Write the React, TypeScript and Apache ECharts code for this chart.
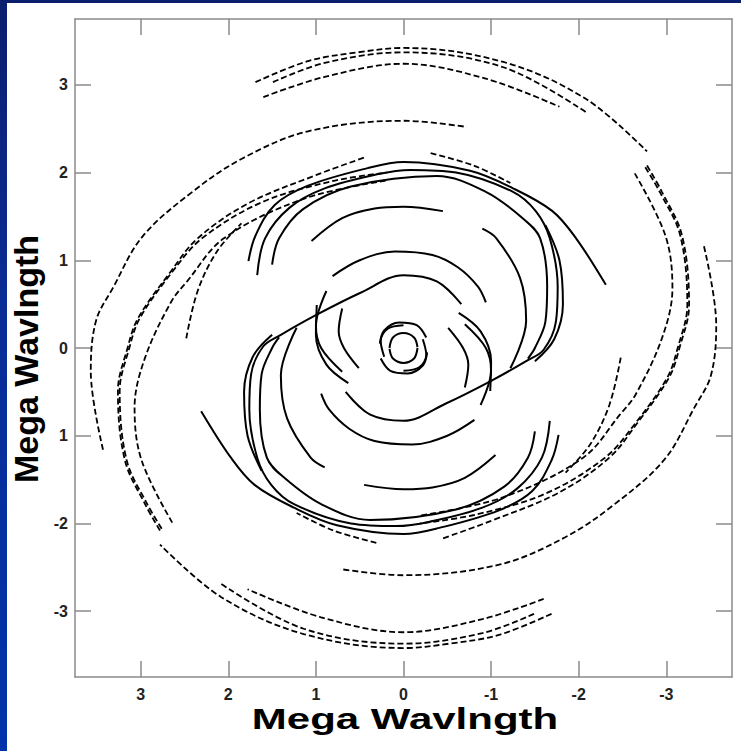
import React, { useEffect, useRef } from "react";
import * as echarts from "echarts";

// Tick values of both axes (Mega wavelengths)
const tickValues = [-3, -2, -1, 0, 1, 2, 3];
const axisTitle = "Mega Wavlngth";

// UV tracks: [u, v] points (u axis runs 3 -> -3 left to right).
// Every track is drawn together with its conjugate (-u, -v).
const trackT1 = [[3.43, -1.16], [3.57, -0.26], [3.51, 0.31], [3.32, 0.68], [2.98, 1.27], [2.41, 1.78], [1.84, 2.16], [1.09, 2.47], [0, 2.59], [-0.72, 2.52]];
const trackTA = [[1.69, 3.03], [1.09, 3.27], [0.52, 3.37], [0, 3.42], [-1.14, 3.26], [-2.08, 2.84], [-2.78, 2.24]];
const trackTB = [[1.49, 3.03], [0.9, 3.25], [0, 3.37], [-1.14, 3.2], [-2.08, 2.69]];
const trackTC = [[1.6, 2.86], [0.9, 3.09], [0, 3.24], [-0.94, 3.07], [-1.78, 2.75]];
const trackRA1 = [[-2.78, 2.08], [-2.95, 1.78], [-3.18, 1.28], [-3.26, 0.49], [-3.15, 0], [-3.03, -0.34], [-2.65, -0.88], [-2.35, -1.25], [-1.77, -1.65], [-1.0, -1.97], [-0.42, -2.18]];
const trackRA2 = [[-2.76, 2.06], [-2.93, 1.77], [-3.16, 1.28], [-3.24, 0.49], [-3.13, 0], [-3.01, -0.34], [-2.63, -0.88], [-2.3, -1.25], [-1.62, -1.66], [-0.82, -1.9], [-0.19, -2.0]];
const trackRB = [[-2.64, 1.99], [-2.99, 1.28], [-3.07, 0.68], [-2.95, 0.11], [-2.65, -0.53], [-2.47, -0.76], [-2.05, -1.25], [-1.14, -1.7], [-0.19, -1.91]];
const trackRC = [[-2.48, -0.11], [-2.35, -0.65], [-2.13, -1.1], [-1.85, -1.42]];
const trackSD1 = [[-0.31, 2.22], [-0.8, 2.08], [-1.22, 1.88]];

const trackMa = [[1.77, 0.99], [1.69, 1.28], [1.47, 1.63], [1.09, 1.85], [0.41, 2.05], [0, 2.12], [-0.76, 2.02], [-1.25, 1.82], [-1.7, 1.56], [-1.97, 1.25], [-2.31, 0.72]];
const trackMb = [[1.67, 0.83], [1.58, 1.25], [1.3, 1.6], [0.9, 1.82], [0.3, 1.98], [-0.08, 2.03], [-0.6, 2.0], [-1.25, 1.78], [-1.51, 1.56], [-1.67, 1.25], [-1.76, 0.7], [-1.74, 0.3], [-1.6, -0.02], [-1.4, -0.15], [-0.99, -0.38], [-0.49, -0.63], [0, -0.83], [0.38, -0.76], [0.66, -0.5]];
const trackMc = [[1.5, 0.95], [1.42, 1.25], [1.15, 1.58], [0.6, 1.84], [-0.38, 1.96], [-0.94, 1.78], [-1.36, 1.48], [-1.56, 1.25], [-1.64, 0.7], [-1.62, 0.3], [-1.5, 0], [-1.42, -0.12]];
const trackMd = [[-0.9, 1.36], [-1.06, 1.25], [-1.33, 0.8], [-1.4, 0.31], [-1.22, -0.23]];
const trackMe = [[-1.62, 1.4], [-1.78, 1.0], [-1.82, 0.5], [-1.72, 0.1], [-1.5, -0.15]];
const trackS1 = [[1.05, 1.22], [0.7, 1.48], [0.33, 1.59], [0, 1.61], [-0.45, 1.56]];
const trackI1 = [[0.81, 0.82], [0.5, 1.0], [0.1, 1.1], [-0.33, 1.06], [-0.62, 0.92], [-0.85, 0.7], [-0.94, 0.52]];
const trackI3 = [[-0.63, 0.4], [-0.88, 0.19], [-1.0, -0.15], [-0.99, -0.49]];
const trackI4 = [[-0.7, 0.27], [-0.94, 0], [-1.0, -0.26], [-0.88, -0.65]];
const trackI5 = [[-0.51, 0.23], [-0.68, 0], [-0.74, -0.19], [-0.7, -0.45]];
const trackC1 = [[0.27, 0.05], [0.22, 0.2], [0.05, 0.29], [-0.15, 0.26], [-0.26, 0.12]];
const trackC1b = [[0.22, -0.1], [0.26, 0.08], [0.18, 0.22], [0, 0.26]];
const trackC2 = [[0.16, 0.0], [0.12, 0.12], [0, 0.17], [-0.12, 0.12], [-0.16, 0.01]];

const dashedTracks = [trackT1, trackTA, trackTB, trackTC, trackRA1, trackRA2, trackRB, trackRC, trackSD1];
const solidTracks = [trackMa, trackMb, trackMc, trackMd, trackMe, trackS1, trackI1, trackI3, trackI4, trackI5, trackC1, trackC1b, trackC2];

const AX_MIN = -3.75;
const AX_MAX = 3.75;

export default function App() {
  const ref = useRef<HTMLDivElement>(null);

  useEffect(() => {
    if (!ref.current) return;
    const chart = echarts.init(ref.current, null, { renderer: "svg" });

    const series: any[] = [];
    const addTrack = (pts: number[][], dashed: boolean) => {
      const style = {
        color: "#000",
        width: dashed ? 1.8 : 2,
        type: dashed ? [6, 3] : "solid",
      };
      series.push({ type: "line", data: pts, smooth: 0.35, showSymbol: false, silent: true, lineStyle: style });
      series.push({ type: "line", data: pts.map(([u, v]) => [-u, -v]), smooth: 0.35, showSymbol: false, silent: true, lineStyle: style });
    };
    dashedTracks.forEach((t) => addTrack(t, true));
    solidTracks.forEach((t) => addTrack(t, false));

    const frame = { show: true, onZero: false, lineStyle: { color: "#8a8a8a", width: 1.5 } };
    const ticks = { show: true, inside: true, length: 16, customValues: tickValues, lineStyle: { color: "#8a8a8a", width: 1.5 } };
    const label = {
      show: true,
      customValues: tickValues,
      fontSize: 16,
      fontWeight: "bold",
      fontFamily: "Liberation Sans, Arial, sans-serif",
      color: "#222",
    };

    chart.setOption({
      animation: false,
      backgroundColor: "#fff",
      grid: { left: 68, top: 16, width: 657, height: 658, containLabel: false },
      xAxis: [
        {
          type: "value", min: AX_MIN, max: AX_MAX, inverse: true, position: "bottom",
          axisLine: frame, axisTick: ticks, splitLine: { show: false },
          axisLabel: { ...label, margin: 9, formatter: (v: number) => String(v) },
        },
        {
          type: "value", min: AX_MIN, max: AX_MAX, inverse: true, position: "top",
          axisLine: frame, axisTick: ticks, splitLine: { show: false }, axisLabel: { show: false },
        },
      ],
      yAxis: [
        {
          type: "value", min: AX_MIN, max: AX_MAX, position: "left",
          axisLine: frame, axisTick: ticks, splitLine: { show: false },
          axisLabel: { ...label, margin: 7, formatter: (v: number) => (v === -1 ? "1" : String(v)) },
        },
        {
          type: "value", min: AX_MIN, max: AX_MAX, position: "right",
          axisLine: frame, axisTick: ticks, splitLine: { show: false }, axisLabel: { show: false },
        },
      ],
      graphic: [
        {
          type: "text", x: 398, y: 716, scaleX: 1.4, silent: true,
          style: { text: axisTitle, fontSize: 30, fontWeight: "bold", fontFamily: "Liberation Sans, Arial, sans-serif", fill: "#000", align: "center", verticalAlign: "middle" },
        },
        {
          type: "text", x: 19, y: 356, rotation: Math.PI / 2, silent: true,
          style: { text: axisTitle, fontSize: 34, fontWeight: "bold", fontFamily: "Liberation Sans, Arial, sans-serif", fill: "#000", align: "center", verticalAlign: "middle" },
        },
      ],
      series,
    });

    return () => chart.dispose();
  }, []);

  return (
    <div style={{ position: "absolute", left: 0, top: 0, width: 741, height: 751, background: "linear-gradient(to bottom, #0b1e6e 0%, #0a2c96 40%, #0033aa 100%)", overflow: "hidden" }}>
      <div ref={ref} style={{ position: "absolute", left: 7, top: 3, width: 734, height: 748, background: "#fff" }} />
    </div>
  );
}
